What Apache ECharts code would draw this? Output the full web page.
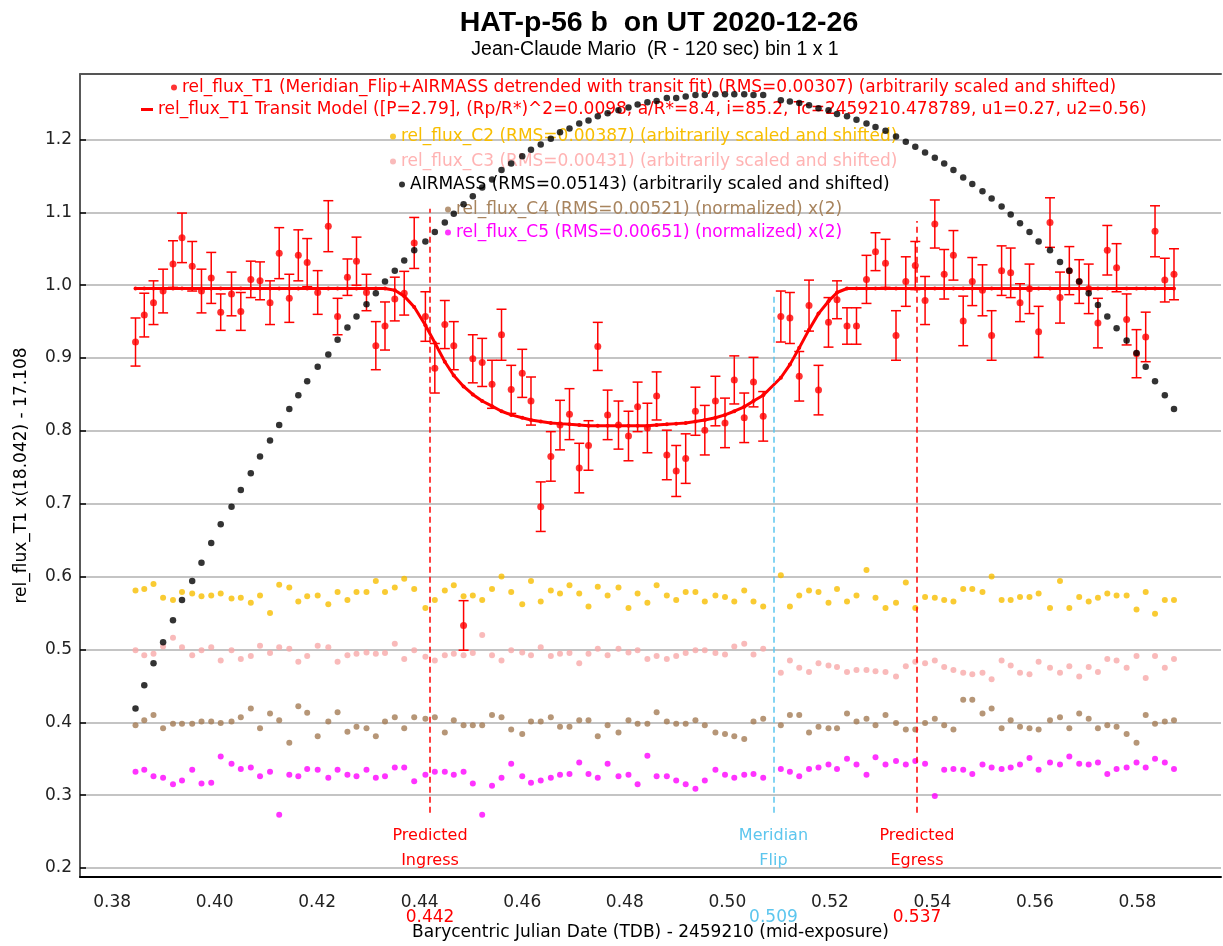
<!DOCTYPE html>
<html><head><meta charset="utf-8">
<script src="https://cdn.jsdelivr.net/npm/echarts@6/dist/echarts.min.js"></script>
<style>html,body{margin:0;padding:0;background:#fff}#chart{width:1223px;height:946px}</style>
</head><body><div id="chart"></div>
<script>
// ---- data ----
const times = [0.38455,0.38626,0.38806,0.38993,0.39186,0.39362,0.39561,0.39742,0.39932,0.40117,
 0.40328,0.40509,0.40704,0.40884,0.41079,0.41258,0.41455,0.41631,0.41804,0.42009,
 0.42216,0.42397,0.42589,0.42766,0.42961,0.43143,0.43322,0.43513,0.43697,0.43892,
 0.44110,0.44294,0.44489,0.44664,0.44855,0.45035,0.45218,0.45410,0.45595,0.45784,
 0.45999,0.46170,0.46360,0.46557,0.46736,0.46921,0.47111,0.47292,0.47473,0.47665,
 0.47877,0.48072,0.48250,0.48441,0.48621,0.48820,0.49003,0.49188,0.49378,0.49561,
 0.49768,0.49955,0.50136,0.50330,0.50511,0.50700,0.51044,0.51221,0.51403,0.51594,
 0.51779,0.51974,0.52140,0.52335,0.52520,0.52715,0.52891,0.53086,0.53291,0.53482,
 0.53667,0.53858,0.54048,0.54231,0.54411,0.54602,0.54779,0.54978,0.55156,0.55351,
 0.55528,0.55710,0.55895,0.56073,0.56295,0.56490,0.56672,0.56865,0.57050,0.57230,
 0.57413,0.57594,0.57790,0.57983,0.58162,0.58344,0.58535,0.58714];

const t1Flux = [0.922,0.959,0.976,0.992,1.029,1.065,1.026,0.992,1.010,0.963,
 0.988,0.964,1.008,1.006,0.976,1.044,0.982,1.041,1.031,0.990,
 1.081,0.957,1.011,1.033,0.990,0.917,0.944,0.981,0.989,1.058,
 0.957,0.886,0.946,0.917,0.533,0.899,0.894,0.864,0.932,0.857,
 0.879,0.841,0.696,0.765,0.808,0.823,0.749,0.780,0.916,0.822,
 0.808,0.793,0.833,0.804,0.848,0.767,0.745,0.762,0.827,0.801,
 0.841,0.811,0.870,0.818,0.867,0.820,0.957,0.955,0.875,0.972,
 0.856,0.949,0.980,0.944,0.944,1.008,1.046,1.030,0.931,1.005,
 1.027,0.979,1.084,1.015,1.041,0.951,1.005,0.993,0.931,1.020,
 1.017,0.976,0.995,0.936,1.086,0.983,1.020,1.005,0.995,0.948,
 1.048,1.024,0.953,0.906,0.929,1.074,1.007,1.015];

const t1Err = [0.033,0.030,0.030,0.030,0.032,0.034,0.034,0.030,0.035,0.025,
 0.030,0.026,0.025,0.026,0.030,0.035,0.033,0.035,0.033,0.030,
 0.035,0.025,0.025,0.033,0.025,0.033,0.033,0.030,0.030,0.035,
 0.034,0.034,0.033,0.033,0.034,0.033,0.033,0.033,0.035,0.033,
 0.033,0.033,0.034,0.034,0.034,0.035,0.034,0.034,0.033,0.034,
 0.033,0.034,0.034,0.034,0.033,0.034,0.035,0.034,0.033,0.034,
 0.034,0.034,0.033,0.034,0.034,0.034,0.035,0.035,0.034,0.035,
 0.034,0.034,0.026,0.025,0.025,0.033,0.026,0.033,0.034,0.034,
 0.033,0.033,0.033,0.034,0.034,0.034,0.033,0.035,0.034,0.034,
 0.034,0.026,0.034,0.035,0.034,0.035,0.033,0.030,0.034,0.034,
 0.034,0.033,0.035,0.033,0.034,0.035,0.030,0.035];

const transitModel = [0.9955,0.9955,0.9955,0.9955,0.9955,0.9955,0.9955,0.9955,0.9955,0.9955,
 0.9955,0.9955,0.9955,0.9955,0.9955,0.9955,0.9955,0.9955,0.9955,0.9955,
 0.9955,0.9955,0.9955,0.9955,0.9955,0.9955,0.9955,0.993,0.985,0.970,
 0.945,0.921,0.895,0.876,0.861,0.850,0.841,0.834,0.827,0.822,
 0.818,0.815,0.813,0.811,0.810,0.809,0.808,0.807,0.807,0.807,
 0.807,0.807,0.807,0.807,0.808,0.809,0.810,0.811,0.813,0.815,
 0.818,0.822,0.827,0.833,0.841,0.849,0.873,0.891,0.914,0.939,
 0.961,0.978,0.990,0.9955,0.9955,0.9955,0.9955,0.9955,0.9955,0.9955,
 0.9955,0.9955,0.9955,0.9955,0.9955,0.9955,0.9955,0.9955,0.9955,0.9955,
 0.9955,0.9955,0.9955,0.9955,0.9955,0.9955,0.9955,0.9955,0.9955,0.9955,
 0.9955,0.9955,0.9955,0.9955,0.9955,0.9955,0.9955,0.9955];

const c2Flux = [0.581,0.583,0.590,0.571,0.568,0.579,0.577,0.573,0.574,0.577,
 0.570,0.571,0.564,0.574,0.550,0.589,0.585,0.566,0.573,0.574,
 0.562,0.579,0.568,0.579,0.579,0.594,0.579,0.585,0.597,0.583,
 0.557,0.568,0.581,0.588,0.573,0.574,0.568,0.583,0.600,0.579,
 0.562,0.594,0.566,0.581,0.577,0.588,0.577,0.559,0.586,0.574,
 0.585,0.557,0.577,0.564,0.588,0.574,0.568,0.579,0.579,0.566,
 0.574,0.572,0.566,0.581,0.566,0.559,0.602,0.559,0.574,0.581,
 0.579,0.564,0.583,0.566,0.574,0.609,0.571,0.557,0.564,0.592,
 0.557,0.572,0.571,0.568,0.566,0.583,0.583,0.579,0.600,0.568,
 0.568,0.572,0.572,0.577,0.557,0.594,0.557,0.572,0.566,0.571,
 0.577,0.574,0.574,0.555,0.579,0.549,0.568,0.568];

const c3Flux = [0.499,0.492,0.494,0.504,0.516,0.503,0.492,0.499,0.503,0.485,
 0.499,0.487,0.491,0.505,0.495,0.503,0.501,0.483,0.491,0.505,
 0.503,0.483,0.492,0.494,0.496,0.494,0.495,0.508,0.487,0.499,
 0.490,0.485,0.492,0.494,0.492,0.495,0.520,0.492,0.485,0.499,
 0.496,0.492,0.503,0.491,0.494,0.495,0.481,0.494,0.501,0.492,
 0.501,0.496,0.499,0.487,0.491,0.487,0.491,0.495,0.499,0.499,
 0.495,0.493,0.504,0.508,0.493,0.501,0.468,0.485,0.475,0.469,
 0.481,0.478,0.476,0.469,0.472,0.472,0.470,0.469,0.463,0.477,
 0.483,0.481,0.485,0.476,0.472,0.468,0.466,0.468,0.459,0.485,
 0.478,0.468,0.466,0.483,0.475,0.468,0.477,0.463,0.476,0.469,
 0.487,0.485,0.475,0.491,0.461,0.491,0.475,0.487];

const airmass = [0.419,0.451,0.481,0.510,0.540,0.568,0.594,0.619,0.646,0.672,
 0.696,0.719,0.742,0.765,0.787,0.808,0.830,0.849,0.868,0.888,
 0.905,0.925,0.942,0.957,0.974,0.989,1.005,1.020,1.034,1.048,
 1.060,1.073,1.086,1.098,1.111,1.122,1.134,1.145,1.158,1.167,
 1.177,1.186,1.193,1.201,1.210,1.215,1.222,1.226,1.232,1.236,
 1.240,1.244,1.248,1.251,1.253,1.257,1.257,1.259,1.261,1.261,
 1.262,1.262,1.262,1.262,1.261,1.261,1.254,1.252,1.250,1.247,
 1.243,1.240,1.235,1.232,1.227,1.222,1.217,1.212,1.204,1.197,
 1.190,1.182,1.175,1.167,1.158,1.148,1.139,1.129,1.119,1.108,
 1.097,1.085,1.073,1.060,1.048,1.032,1.020,1.005,0.989,0.973,
 0.957,0.941,0.924,0.907,0.888,0.868,0.849,0.830];

const c4Flux = [0.396,0.403,0.410,0.392,0.398,0.398,0.398,0.401,0.401,0.399,
 0.401,0.407,0.419,0.392,0.412,0.403,0.372,0.422,0.413,0.381,
 0.401,0.414,0.387,0.394,0.392,0.381,0.401,0.407,0.392,0.407,
 0.405,0.407,0.386,0.403,0.396,0.396,0.396,0.410,0.407,0.390,
 0.384,0.401,0.401,0.407,0.394,0.394,0.403,0.403,0.381,0.396,
 0.386,0.403,0.398,0.398,0.414,0.401,0.398,0.398,0.403,0.396,
 0.386,0.384,0.381,0.377,0.401,0.405,0.396,0.410,0.410,0.386,
 0.394,0.392,0.392,0.412,0.401,0.405,0.396,0.410,0.399,0.390,
 0.390,0.399,0.405,0.396,0.390,0.431,0.431,0.412,0.419,0.392,
 0.403,0.394,0.392,0.390,0.403,0.407,0.392,0.412,0.405,0.392,
 0.396,0.394,0.384,0.372,0.410,0.398,0.401,0.403];

const c5Flux = [0.332,0.335,0.326,0.324,0.315,0.320,0.335,0.316,0.317,0.353,
 0.343,0.336,0.338,0.326,0.332,0.273,0.328,0.326,0.336,0.335,
 0.324,0.335,0.328,0.326,0.335,0.324,0.326,0.338,0.338,0.319,
 0.328,0.332,0.332,0.328,0.332,0.316,0.273,0.313,0.324,0.343,
 0.326,0.317,0.320,0.324,0.328,0.329,0.345,0.329,0.324,0.343,
 0.326,0.328,0.315,0.354,0.326,0.326,0.320,0.315,0.309,0.320,
 0.335,0.328,0.324,0.328,0.329,0.324,0.336,0.332,0.326,0.336,
 0.338,0.342,0.336,0.350,0.342,0.328,0.352,0.342,0.347,0.342,
 0.347,0.343,0.299,0.335,0.336,0.335,0.329,0.342,0.338,0.336,
 0.338,0.342,0.351,0.335,0.345,0.342,0.353,0.343,0.342,0.345,
 0.329,0.336,0.338,0.345,0.338,0.350,0.345,0.336];

const xTickValues = [0.38,0.40,0.42,0.44,0.46,0.48,0.50,0.52,0.54,0.56,0.58];
const yTickValues = [0.2,0.3,0.4,0.5,0.6,0.7,0.8,0.9,1.0,1.1,1.2];
const markerTimes = [0.442, 0.509, 0.537];
const markerLabels = ['Predicted\nIngress', 'Meridian\nFlip', 'Predicted\nEgress'];
const markerTops = [1.105, 0.985, 1.088];
const markerBottom = 0.276;

const seriesNames = [
 'rel_flux_T1 (Meridian_Flip+AIRMASS detrended with transit fit) (RMS=0.00307) (arbitrarily scaled and shifted)',
 'rel_flux_T1 Transit Model ([P=2.79], (Rp/R*)^2=0.0098, a/R*=8.4, i=85.2, Tc=2459210.478789, u1=0.27, u2=0.56)',
 'rel_flux_C2 (RMS=0.00387) (arbitrarily scaled and shifted)',
 'rel_flux_C3 (RMS=0.00431) (arbitrarily scaled and shifted)',
 'AIRMASS (RMS=0.05143) (arbitrarily scaled and shifted)',
 'rel_flux_C4 (RMS=0.00521) (normalized) x(2)',
 'rel_flux_C5 (RMS=0.00651) (normalized) x(2)'
];

// ---- styling ----
const RED = '#ff0000', GOLD = '#f8be00', PINK = '#f7a9a9', BLACK = '#000000',
      BROWN = '#a47c55', MAGENTA = '#ff00ff', SKY = '#5cc6ee';
const markerColors = [RED, SKY, RED];
const legendColors = [RED, RED, GOLD, '#ffb3b3', BLACK, '#a8845e', MAGENTA];
const legendCenters = [89, 111, 138, 163, 186, 211, 234];
const FONT = '"Liberation Sans", Arial, Helvetica, sans-serif';
const WIDE = '"DejaVu Sans", Verdana, sans-serif';
const LEGEND_FS = 17;

const X_MIN = 0.37372, X_MAX = 0.59631, Y_MIN = 0.1877, Y_MAX = 1.2899;

const pts = arr => times.map((t, i) => [t, arr[i]]);

// measure legend text so each legend line can be centred where the reference centres it
const mctx = document.createElement('canvas').getContext('2d');
mctx.font = LEGEND_FS + 'px ' + WIDE;
const textW = s => mctx.measureText(s).width;

const chart = echarts.init(document.getElementById('chart'), null, {renderer: 'canvas'});

const legends = seriesNames.map((name, i) => {
  const isLine = i === 1;
  const iw = isLine ? 12 : 6, ih = isLine ? 3 : 6;
  const total = iw + 5 + textW(name);
  return {
    data: [{name: name, icon: isLine ? 'rect' : 'circle'}],
    top: legendCenters[i] - 10, left: Math.round(644 - total / 2), padding: 0,
    itemWidth: iw, itemHeight: ih, itemGap: 0, selectedMode: false,
    textStyle: {color: legendColors[i], fontSize: LEGEND_FS, fontFamily: WIDE}
  };
});

function errorBarItem(params, api) {
  const x = api.value(0);
  const p1 = api.coord([x, api.value(1)]);
  const p2 = api.coord([x, api.value(2)]);
  const cw = 5;
  const st = {stroke: RED, lineWidth: 1.5};
  return {type: 'group', children: [
    {type: 'line', shape: {x1: p1[0], y1: p1[1], x2: p2[0], y2: p2[1]}, style: st},
    {type: 'line', shape: {x1: p1[0] - cw, y1: p1[1], x2: p1[0] + cw, y2: p1[1]}, style: st},
    {type: 'line', shape: {x1: p2[0] - cw, y1: p2[1], x2: p2[0] + cw, y2: p2[1]}, style: st}
  ]};
}

const option = {
  animation: false,
  backgroundColor: '#ffffff',
  textStyle: {fontFamily: FONT},
  title: [
    {text: 'HAT-p-56 b  on UT 2020-12-26', left: 654, top: 4, textAlign: 'center',
     textStyle: {fontSize: 28.5, fontWeight: 'bold', color: '#000', fontFamily: FONT}},
    {text: 'Jean-Claude Mario  (R - 120 sec) bin 1 x 1', left: 650, top: 35, textAlign: 'center',
     textStyle: {fontSize: 19.5, fontWeight: 'normal', color: '#000', fontFamily: FONT}}
  ],
  legend: legends,
  grid: {left: 80, right: 2, top: 74, bottom: 63, containLabel: false},
  xAxis: [
    {type: 'value', position: 'bottom', min: X_MIN, max: X_MAX,
     name: 'Barycentric Julian Date (TDB) - 2459210 (mid-exposure)', nameLocation: 'middle', nameGap: 47,
     nameTextStyle: {fontSize: 17, color: '#000', fontFamily: WIDE},
     axisLine: {show: true, onZero: false, lineStyle: {color: '#000', width: 2}},
     axisTick: {show: false},
     axisLabel: {customValues: xTickValues, margin: 17, fontSize: 17, color: '#222', fontFamily: WIDE,
       formatter: v => v.toFixed(2)},
     splitLine: {show: false}},
    {type: 'value', position: 'bottom', min: X_MIN, max: X_MAX,
     axisLine: {show: false}, axisTick: {show: false}, splitLine: {show: false},
     axisLabel: {customValues: markerTimes, margin: 32, fontSize: 17, fontFamily: WIDE,
       formatter: v => {
         let k = 0, best = 1;
         markerTimes.forEach((m, i) => { if (Math.abs(m - v) < best) { best = Math.abs(m - v); k = i; } });
         return '{m' + k + '|' + markerTimes[k].toFixed(3) + '}';
       },
       rich: {m0: {color: RED, fontSize: 17, fontFamily: WIDE}, m1: {color: SKY, fontSize: 17, fontFamily: WIDE},
              m2: {color: RED, fontSize: 17, fontFamily: WIDE}}}},
    {type: 'value', position: 'top', min: X_MIN, max: X_MAX,
     axisLine: {show: true, onZero: false, lineStyle: {color: '#555', width: 2}},
     axisTick: {show: false}, axisLabel: {show: false}, splitLine: {show: false}}
  ],
  yAxis: {
    type: 'value', min: Y_MIN, max: Y_MAX,
    name: 'rel_flux_T1 x(18.042) - 17.108', nameLocation: 'middle', nameGap: 50, nameRotate: 90,
    nameTextStyle: {fontSize: 17, color: '#000', fontFamily: WIDE},
    axisLine: {show: true, onZero: false, lineStyle: {color: '#222', width: 1.5}},
    axisTick: {show: true, inside: true, length: 6, customValues: yTickValues, lineStyle: {color: '#000', width: 1.5}},
    axisLabel: {customValues: yTickValues, margin: 8, fontSize: 17, color: '#222', fontFamily: WIDE,
      formatter: v => v.toFixed(1)},
    splitLine: {show: true, lineStyle: {color: '#c4c4c4', width: 2}}
  },
  series: [
    {name: 'T1 error bars', type: 'custom', renderItem: errorBarItem, clip: true, z: 2,
     encode: {x: 0, y: [1, 2]},
     data: times.map((t, i) => [t, t1Flux[i] - t1Err[i], t1Flux[i] + t1Err[i]])},
    {name: seriesNames[0], type: 'scatter', data: pts(t1Flux), symbol: 'circle', symbolSize: 7,
     itemStyle: {color: RED}, z: 3},
    {name: seriesNames[1], type: 'line', data: pts(transitModel), symbol: 'circle', symbolSize: 4,
     showSymbol: true, itemStyle: {color: RED}, lineStyle: {color: RED, width: 3}, z: 4,
     markLine: {
       silent: true, symbol: ['none', 'none'], animation: false,
       lineStyle: {type: [6, 4], width: 1.5},
       label: {position: 'start', distance: 11, fontSize: 16, lineHeight: 25, fontFamily: WIDE},
       data: markerTimes.map((t, i) => [
         {coord: [t, markerBottom], lineStyle: {color: markerColors[i], type: [6, 4], width: 1.5},
          label: {formatter: markerLabels[i], color: markerColors[i]}},
         {coord: [t, markerTops[i]]}
       ])
     }},
    {name: seriesNames[2], type: 'scatter', data: pts(c2Flux), symbolSize: 6, itemStyle: {color: GOLD}, z: 3},
    {name: seriesNames[3], type: 'scatter', data: pts(c3Flux), symbolSize: 6, itemStyle: {color: PINK}, z: 3},
    {name: seriesNames[4], type: 'scatter', data: pts(airmass), symbolSize: 6.5, itemStyle: {color: BLACK}, z: 5},
    {name: seriesNames[5], type: 'scatter', data: pts(c4Flux), symbolSize: 6, itemStyle: {color: BROWN}, z: 3},
    {name: seriesNames[6], type: 'scatter', data: pts(c5Flux), symbolSize: 6, itemStyle: {color: MAGENTA}, z: 3}
  ]
};
chart.setOption(option);
</script>
</body></html>
